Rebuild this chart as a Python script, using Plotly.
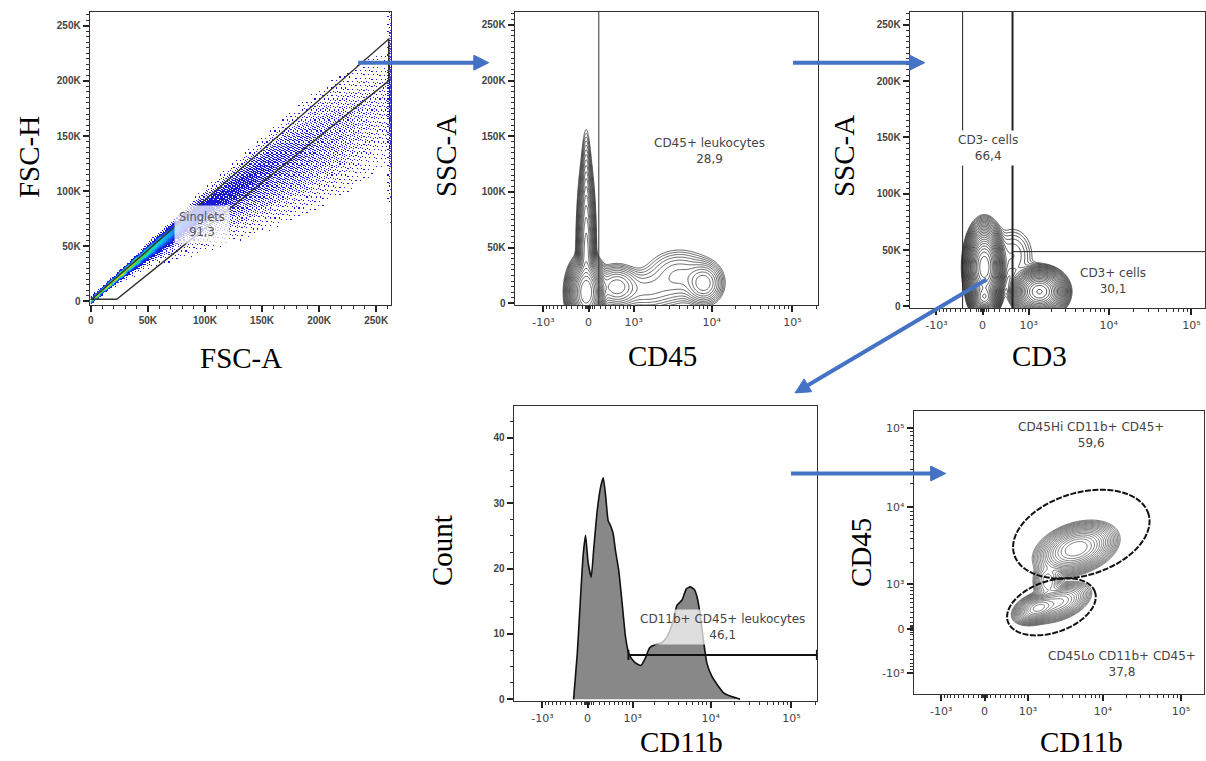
import numpy as np
import plotly.graph_objects as go

W, H = 1206, 761
LN10 = np.log(10.0)
BIEX_W = 600.0


def biex(v):
    return np.arcsinh(np.asarray(v, dtype=float) / BIEX_W) / LN10


# ---------------- DATA ----------------
# Panel 1: FSC-A vs FSC-H (values in thousands)
fsc_gate_a = [0.9, 22.7, 261.0, 261.0]
fsc_gate_h = [2.0, 2.0, 200.0, 238.0]
fsc_pop_a_mean = [20, 55, 110, 165]
fsc_pop_a_sd = [22, 25, 40, 50]
fsc_pop_ratio = [0.91, 0.86, 0.80, 0.68]
fsc_pop_ratio_sd = [0.035, 0.05, 0.065, 0.10]
fsc_pop_weight = [1.0, 0.2, 0.035, 0.01]
fsc_sat_a, fsc_sat_h, fsc_sat_h_sd, fsc_sat_w = 262.0, 180.0, 35.0, 0.05
singlets_label = "Singlets<br>91,3"

# Panel 2: CD45 vs SSC-A populations (CD45 real units, SSC in K, sd of CD45 in decades)
p2_cd45 = [-40, -40, -40, 530, 8000, 4000, 1500]
p2_ssc = [10, 40, 90, 15, 18, 25, 12]
p2_cd45_sd = [0.075, 0.04, 0.025, 0.12, 0.1, 0.2, 0.2]
p2_ssc_sd = [10, 30, 25, 8, 8, 11, 9]
p2_w = [1.0, 0.15, 0.02, 0.02, 0.02, 0.006, 0.004]
p2_gate_cd45 = 178
cd45_label = "CD45+ leukocytes<br>28,9"

# Panel 3: CD3 vs SSC-A
p3_cd3 = [30, 30, 1400, 560]
p3_ssc = [35, 8, 13, 45]
p3_cd3_sd = [0.075, 0.06, 0.11, 0.14]
p3_ssc_sd = [12.5, 5, 7, 14]
p3_w = [1.0, 0.5, 0.6, 0.004]
p3_gate_left, p3_gate_right, p3_gate_ssc = -350, 560, 48.6
cd3neg_label = "CD3- cells<br>66,4"
cd3pos_label = "CD3+ cells<br>30,1"

# Panel 4: CD11b histogram
cd11b_values = [-245, -178, -120, -74, -34, 9, 63, 108, 168, 227, 277, 320, 374, 421, 479,
                529, 607, 694, 782, 879, 986, 1159, 1316, 1500, 1710, 2030, 2470, 2860, 3310,
                3820, 4410, 4990, 5590, 6270, 6770, 7290, 8030, 9000, 10380, 11980, 14470,
                17500, 23200]
cd11b_counts = [0, 7, 15.7, 22.2, 25.1, 21, 18.7, 23.2, 28.9, 32.4, 33.9, 31.4, 27.3, 26.6,
                25.3, 22.8, 19.7, 14.6, 9.6, 7.0, 6.1, 5.4, 5.2, 6.3, 7.9, 8.4, 8.7, 9.6, 11.4,
                14.4, 15.2, 16.9, 17.2, 16.8, 15.7, 13.6, 9.6, 5.5, 3.5, 2.3, 1.0, 0.5, 0]
hist_gate_lo, hist_gate_hi, hist_gate_count = 868, 207000, 6.8
cd11b_label = "CD11b+ CD45+ leukocytes<br>46,1"

# Panel 5: CD11b vs CD45
p5_cd11b = [4500, 1400, 2600, 1900]
p5_cd45 = [3000, 380, 500, 1100]
p5_sd_major = [0.16, 0.1, 0.14, 0.07]
p5_sd_minor = [0.09, 0.055, 0.07, 0.1]
p5_angle = [18, 20, 20, 0]
p5_w = [1.0, 0.8, 0.25, 0.05]
# ellipse gates: centre (real units), semi-axes (decades), angle (deg)
gate_cd11b = [5240, 2130]
gate_cd45 = [4600, 405]
gate_a = [0.9, 0.59]
gate_b = [0.52, 0.325]
gate_ang = [16, 18]
hi_label = "CD45Hi CD11b+ CD45+<br>59,6"
lo_label = "CD45Lo CD11b+ CD45+<br>37,8"

# ---------------- LAYOUT HELPERS ----------------
boxes = {
    1: (88, 390, 12, 307),
    2: (514, 818, 12, 307),
    3: (910, 1206, 12, 310),
    4: (513, 817, 408, 705),
    5: (914, 1205, 413, 698),
}


def xdom(b):
    return [b[0] / W, b[1] / W]


def ydom(b):
    return [1 - b[3] / H, 1 - b[2] / H]


TICKFONT = dict(family="Liberation Sans", size=10, color="#444")


def base_axis(domain, rng, tickvals, ticktext, minor_vals, anchor):
    return dict(domain=domain, range=rng, tickmode="array", tickvals=tickvals,
                ticktext=ticktext, ticks="outside", ticklen=6, tickwidth=1.6,
                tickcolor="#222", showline=True, linecolor="#333", linewidth=1.2,
                mirror=True, showgrid=False, zeroline=False, tickfont=TICKFONT,
                minor=dict(tickmode="array", tickvals=minor_vals, ticks="outside",
                           ticklen=3, tickwidth=1, tickcolor="#333", showgrid=False),
                anchor=anchor, fixedrange=True)


K_VALS = [0, 50, 100, 150, 200, 250]
K_TEXT = ["<b>0</b>"] + ["<b>%dK</b>" % v for v in K_VALS[1:]]

BIEX_MAJOR = [-1000, 0, 1000, 10000, 100000]
BIEX_TEXT = ["-10\u00b3", "0", "10\u00b3", "10\u2074", "10\u2075"]
biex_minor_real = ([-v for v in range(100, 1000, 100)] + list(range(100, 1000, 100)) +
                   [-60, -40, -20, 20, 40, 60] +
                   list(range(2000, 10000, 1000)) + list(range(20000, 100000, 10000)) +
                   [200000])
BIEX_MINOR = list(biex(biex_minor_real))


def biex_axis(domain, rng, anchor):
    ax = base_axis(domain, rng, list(biex(BIEX_MAJOR)), BIEX_TEXT, BIEX_MINOR, anchor)
    ax["tickfont"] = dict(family="DejaVu Sans", size=11, color="#444")
    return ax


def k_axis(domain, rng, minor_step, anchor):
    minor = [v for v in np.arange(0, 265, minor_step) if v not in K_VALS]
    return base_axis(domain, rng, K_VALS, K_TEXT, minor, anchor)


fig = go.Figure()

# ---------------- PANEL 1 (dot plot rendered as dithered density) ----------------
A = np.arange(0.5, 263.5, 1.0)
Hh = np.arange(-3.5, 263.0, 1.0)
AA, HH = np.meshgrid(A, Hh)
dens = np.zeros_like(AA)
for am, asd, rm, rsd, w in zip(fsc_pop_a_mean, fsc_pop_a_sd, fsc_pop_ratio,
                               fsc_pop_ratio_sd, fsc_pop_weight):
    hsd = np.sqrt((rsd * AA) ** 2 + 1.2 ** 2)
    dens += w * np.exp(-0.5 * ((AA - am) / asd) ** 2 - 0.5 * ((HH - rm * AA) / hsd) ** 2)
dens += fsc_sat_w * np.exp(-0.5 * ((AA - fsc_sat_a) / 0.8) ** 2
                           - 0.5 * ((HH - fsc_sat_h) / fsc_sat_h_sd) ** 2)
logd = np.log10(dens / dens.max() + 1e-15)

# low-discrepancy (R2) threshold pattern turns low densities into sparse dots
ny, nx = logd.shape
II, JJ = np.meshgrid(np.arange(nx), np.arange(ny))
thr = np.mod(0.5 + II * 0.7548776662 + JJ * 0.5698402910, 1.0)
SOLID = -1.3
prob = np.clip(10 ** ((logd - SOLID) * 0.6), 0, 1)
z1 = np.where(logd >= SOLID, logd, np.where((prob > thr) & (logd > -3.6), SOLID - 0.2, np.nan))
fsc_colors = [[0.0, "#1a1ad6"], [0.13, "#1a1ad6"], [0.35, "#1848f0"], [0.55, "#10a0f0"],
              [0.70, "#10d8d0"], [0.84, "#40d040"], [1.0, "#f0f020"]]
fig.add_trace(go.Heatmap(x=A, y=Hh, z=z1, zmin=SOLID - 0.2, zmax=0, colorscale=fsc_colors,
                         showscale=False, hoverinfo="skip", xaxis="x", yaxis="y"))

# ---------------- PANEL 2 ----------------
tx2 = np.linspace(-0.92, 2.85, 340)
sy2 = np.linspace(-3, 262, 320)
TX, SY = np.meshgrid(tx2, sy2)
d2 = np.zeros_like(TX)
for c, s, csd, ssd, w in zip(p2_cd45, p2_ssc, p2_cd45_sd, p2_ssc_sd, p2_w):
    d2 += w * np.exp(-0.5 * ((TX - biex(c)) / csd) ** 2 - 0.5 * ((SY - s) / ssd) ** 2)
z2 = np.log10(d2 / d2.max() + 1e-15)
fig.add_trace(go.Contour(x=tx2, y=sy2, z=z2, xaxis="x2", yaxis="y2", showscale=False,
                         hoverinfo="skip",
                         contours=dict(coloring="lines", start=-3.2, end=-0.1, size=0.15),
                         colorscale=[[0, "#3a3a3a"], [1, "#3a3a3a"]],
                         line=dict(width=0.8)))

# ---------------- PANEL 3 ----------------
tx3 = np.linspace(-0.9, 2.7, 340)
sy3 = np.linspace(-3, 262, 320)
TX, SY = np.meshgrid(tx3, sy3)
d3 = np.zeros_like(TX)
for c, s, csd, ssd, w in zip(p3_cd3, p3_ssc, p3_cd3_sd, p3_ssc_sd, p3_w):
    d3 += w * np.exp(-0.5 * ((TX - biex(c)) / csd) ** 2 - 0.5 * ((SY - s) / ssd) ** 2)
z3 = np.log10(d3 / d3.max() + 1e-15)
fig.add_trace(go.Contour(x=tx3, y=sy3, z=z3, xaxis="x3", yaxis="y3", showscale=False,
                         hoverinfo="skip",
                         contours=dict(coloring="lines", start=-3.0, end=-0.05, size=0.12),
                         colorscale=[[0, "#2a2a2a"], [1, "#2a2a2a"]],
                         line=dict(width=0.8)))

# ---------------- PANEL 4 ----------------
fig.add_trace(go.Scatter(x=biex(cd11b_values), y=cd11b_counts, mode="lines",
                         fill="tozeroy", fillcolor="#888888",
                         line=dict(color="#111", width=1.6, shape="spline", smoothing=0.5),
                         xaxis="x4", yaxis="y4", hoverinfo="skip"))

# ---------------- PANEL 5 ----------------
tx5 = np.linspace(-0.92, 2.83, 340)
ty5 = np.linspace(-0.83, 2.75, 340)
TX, TY = np.meshgrid(tx5, ty5)
d5 = np.zeros_like(TX)
for c, s, sa, sb, ang, w in zip(p5_cd11b, p5_cd45, p5_sd_major, p5_sd_minor, p5_angle, p5_w):
    th = np.deg2rad(ang)
    dx, dy = TX - biex(c), TY - biex(s)
    u = dx * np.cos(th) + dy * np.sin(th)
    v = -dx * np.sin(th) + dy * np.cos(th)
    d5 += w * np.exp(-0.5 * (u / sa) ** 2 - 0.5 * (v / sb) ** 2)
z5 = np.log10(d5 / d5.max() + 1e-15)
fig.add_trace(go.Contour(x=tx5, y=ty5, z=z5, xaxis="x5", yaxis="y5", showscale=False,
                         hoverinfo="skip",
                         contours=dict(coloring="lines", start=-2.9, end=-0.05, size=0.16),
                         colorscale=[[0, "#555"], [1, "#555"]],
                         line=dict(width=0.8)))

# ---------------- SHAPES (gates) ----------------
shapes = []
gate_line = dict(color="#333", width=1.5)
path = "M " + " L ".join("%g,%g" % (a, h) for a, h in zip(fsc_gate_a, fsc_gate_h)) + " Z"
shapes.append(dict(type="path", path=path, xref="x", yref="y", line=gate_line))

shapes.append(dict(type="line", xref="x2", yref="y2 domain", x0=float(biex(p2_gate_cd45)),
                   x1=float(biex(p2_gate_cd45)), y0=0, y1=1, line=dict(color="#333", width=1)))

for gv, wdt in ((p3_gate_left, 1), (p3_gate_right, 2)):
    shapes.append(dict(type="line", xref="x3", yref="y3 domain", x0=float(biex(gv)),
                       x1=float(biex(gv)), y0=0, y1=1, line=dict(color="#222", width=wdt)))
shapes.append(dict(type="line", xref="x3", yref="y3", x0=float(biex(p3_gate_right)), x1=3.0,
                   y0=p3_gate_ssc, y1=p3_gate_ssc, line=dict(color="#222", width=1)))

hx0, hx1 = float(biex(hist_gate_lo)), float(biex(hist_gate_hi))
shapes.append(dict(type="line", xref="x4", yref="y4", x0=hx0, x1=hx1, y0=hist_gate_count,
                   y1=hist_gate_count, line=dict(color="#111", width=2)))
for xx in (hx0, hx1):
    shapes.append(dict(type="line", xref="x4", yref="y4", x0=xx, x1=xx,
                       y0=hist_gate_count - 0.8, y1=hist_gate_count + 0.8,
                       line=dict(color="#111", width=2)))

ang = np.linspace(0, 2 * np.pi, 120)
for c, s, a, b, g in zip(gate_cd11b, gate_cd45, gate_a, gate_b, gate_ang):
    th = np.deg2rad(g)
    cx, cy = float(biex(c)), float(biex(s))
    ex = cx + a * np.cos(ang) * np.cos(th) - b * np.sin(ang) * np.sin(th)
    ey = cy + a * np.cos(ang) * np.sin(th) + b * np.sin(ang) * np.cos(th)
    p = "M " + " L ".join("%.4f,%.4f" % (x, y) for x, y in zip(ex, ey)) + " Z"
    shapes.append(dict(type="path", path=p, xref="x5", yref="y5",
                       line=dict(color="#111", width=2, dash="6px,1.5px")))

# blue flow arrows (drawn in paper coordinates)
ARROW = "#4472C4"
arrow_px = [((357, 63), (488, 63)), ((793, 63), (925, 63)),
            ((987, 281), (795, 395)), ((791, 476), (946, 476))]
HEAD_L, HEAD_W = 15, 7.5
for (tx, ty), (hx, hy) in arrow_px:
    dx, dy = hx - tx, hy - ty
    L = np.hypot(dx, dy)
    ux, uy = dx / L, dy / L
    bx, by = hx - ux * HEAD_L, hy - uy * HEAD_L
    shapes.append(dict(type="line", xref="paper", yref="paper", x0=tx / W, y0=1 - ty / H,
                       x1=(bx + ux * 2) / W, y1=1 - (by + uy * 2) / H,
                       line=dict(color=ARROW, width=4)))
    pts = [(hx, hy), (bx - uy * HEAD_W, by + ux * HEAD_W), (bx + uy * HEAD_W, by - ux * HEAD_W)]
    pth = "M " + " L ".join("%.5f,%.5f" % (px / W, 1 - py / H) for px, py in pts) + " Z"
    shapes.append(dict(type="path", xref="paper", yref="paper", path=pth,
                       fillcolor=ARROW, line=dict(color=ARROW, width=1)))

# ---------------- ANNOTATIONS ----------------
ann = []


def px_ann(text, x, y, size=12, color="#444", family="DejaVu Sans", angle=0, **kw):
    d = dict(text=text, x=x / W, y=1 - y / H, xref="paper", yref="paper", showarrow=False,
             xanchor="center", yanchor="middle", textangle=angle,
             font=dict(family=family, size=size, color=color))
    d.update(kw)
    ann.append(d)


SERIF = "Liberation Serif"
for t, x, y, a in (("FSC-H", 27, 158, -90), ("FSC-A", 240, 360, 0),
                   ("SSC-A", 445, 157, -90), ("CD45", 662, 358, 0),
                   ("SSC-A", 844, 157, -90), ("CD3", 1040, 358, 0),
                   ("Count", 441, 553, -90), ("CD11b", 681, 746, 0),
                   ("CD45", 861, 555, -90), ("CD11b", 1082, 746, 0)):
    px_ann(t, x, y, size=29, color="#000", family=SERIF, angle=a)

px_ann(singlets_label, 200, 226, size=11.5, color="#555", bgcolor="rgba(255,255,255,0.75)",
       borderpad=4)
px_ann(cd45_label, 709, 152)
px_ann(cd3neg_label, 988, 149, bgcolor="#ffffff", borderpad=2)
px_ann(cd3pos_label, 1114, 282)
px_ann(cd11b_label, 722, 630, bgcolor="rgba(255,255,255,0.72)", borderpad=2)
px_ann(hi_label, 1092, 437)
px_ann(lo_label, 1123, 668)

layout = dict(width=W, height=H, margin=dict(l=0, r=0, t=0, b=0), paper_bgcolor="white",
              plot_bgcolor="white", showlegend=False, shapes=shapes, annotations=ann)

b = boxes[1]
layout["xaxis"] = k_axis(xdom(b), [-0.9, 263], 10, "y")
layout["yaxis"] = k_axis(ydom(b), [-3.6, 262.6], 5, "x")
b = boxes[2]
layout["xaxis2"] = biex_axis(xdom(b), [(514 - 588) / 81, (818 - 588) / 81], "y2")
layout["yaxis2"] = k_axis(ydom(b), [-1.8, 261.6], 5, "x2")
b = boxes[3]
layout["xaxis3"] = biex_axis(xdom(b), [(910 - 983) / 83, (1206 - 983) / 83], "y3")
layout["yaxis3"] = k_axis(ydom(b), [-1.8, 261.5], 5, "x3")
b = boxes[4]
layout["xaxis4"] = biex_axis(xdom(b), [(513 - 587) / 81, (817 - 587) / 81], "y4")
y4 = base_axis(ydom(b), [-0.3, 44.9], [0, 10, 20, 30, 40],
               ["<b>%d</b>" % v for v in (0, 10, 20, 30, 40)],
               [v for v in np.arange(0, 45, 2.5) if v % 10 != 0], "x4")
layout["yaxis4"] = y4
b = boxes[5]
layout["xaxis5"] = biex_axis(xdom(b), [(914 - 985) / 78, (1205 - 985) / 78], "y5")
layout["yaxis5"] = biex_axis(ydom(b), [(632 - 698) / 80, (632 - 413) / 80], "x5")

fig.update_layout(**layout)
fig.write_html("out.html")
